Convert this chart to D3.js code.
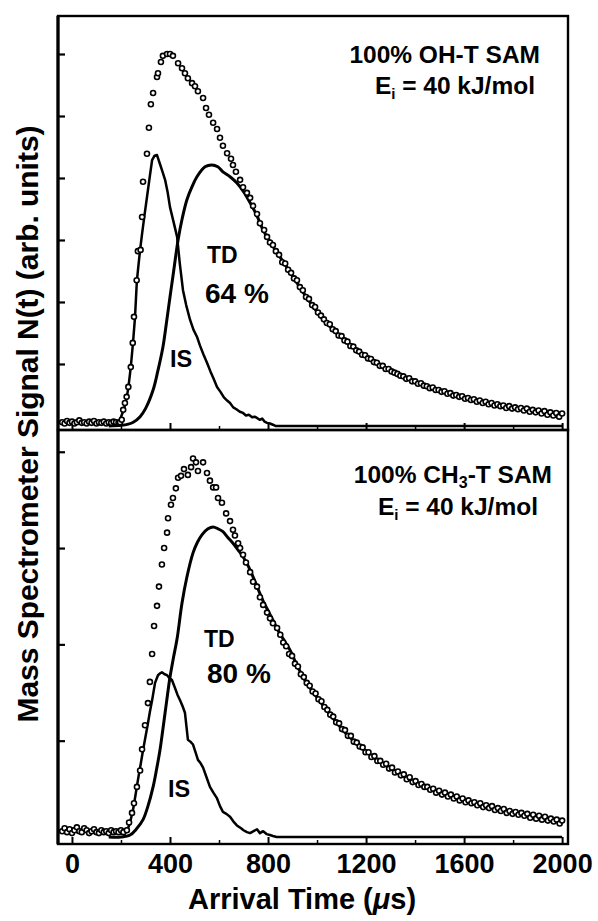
<!DOCTYPE html>
<html>
<head>
<meta charset="utf-8">
<script src="https://cdn.jsdelivr.net/npm/d3@7"></script>
<style>
  body { margin: 0; background: #fff; }
  text { font-family: "Liberation Sans", Arial, Helvetica, sans-serif; font-weight: bold; fill: #000; }
</style>
</head>
<body>
<div id="chart-area"></div>
<script>
// arrival time in microseconds, signal in arb. units (one unit per left tick)
const xMajorTicks = [0, 400, 800, 1200, 1600, 2000]
const xMinorTicks = [200, 600, 1000, 1400, 1800]
const ohYTicks = [1, 2, 3, 4, 5, 6]
const ch3YTicks = [1, 2, 3, 4]

// ---- 100% OH-T SAM ----
const ohData = [
  [-40,0.06],[-30,0.04],[-20,0.08],[-10,0.05],[0,0.07],[10,0.04],[20,0.06],[30,0.09],[40,0.05],[50,0.06],
  [60,0.04],[70,0.07],[80,0.05],[90,0.08],[100,0.04],[110,0.06],[120,0.05],[130,0.07],[140,0.04],[150,0.06],
  [160,0.05],[170,0.07],[180,0.06],[190,0.05],[196,0.06],[203,0.10],[209,0.26],[216,0.37],[223,0.47],[230,0.63],
  [240,0.95],[248,1.34],[253,1.76],[264,2.35],[269,2.82],[280,2.84],[286,3.37],[290,3.94],[306,4.39],[314,4.81],
  [322,5.19],[331,5.37],[347,5.63],[351,5.69],[363,5.87],[371,5.97],[388,6.0],[400,6.0],[412,5.97],[433,5.85],
  [449,5.77],[461,5.69],[473,5.61],[490,5.53],[502,5.48],[514,5.40],[535,5.29],[547,5.13],[559,5.02],[576,4.89],
  [592,4.79],[604,4.65],[616,4.52],[633,4.40],[649,4.31],[657,4.21],[669,4.10],[686,3.97],[698,3.85],[714,3.76],
  [727,3.68],[739,3.55],[755,3.42],[767,3.27],[784,3.16],[796,3.05],
  [808,2.96],[820,2.92],[832,2.82],[845,2.76],[858,2.64],[870,2.62],[882,2.52],[894,2.47],[906,2.38],[918,2.35],
  [930,2.24],[942,2.19],[955,2.08],[967,2.05],[980,1.95],[992,1.92],[1004,1.83],[1016,1.78],[1028,1.72],[1040,1.66],
  [1052,1.64],[1064,1.56],[1076,1.53],[1088,1.46],[1100,1.45],[1112,1.38],[1124,1.36],[1136,1.29],[1148,1.28],[1160,1.22],
  [1172,1.20],[1184,1.15],[1196,1.14],[1208,1.09],[1220,1.08],[1232,1.03],[1244,1.02],[1256,0.97],[1268,0.97],[1280,0.92],
  [1292,0.92],[1304,0.88],[1316,0.86],[1328,0.84],[1340,0.81],[1352,0.80],[1364,0.76],[1376,0.77],[1388,0.72],[1400,0.72],
  [1412,0.68],[1424,0.69],[1436,0.65],[1448,0.64],[1460,0.61],[1472,0.62],[1484,0.58],[1496,0.58],[1508,0.55],[1520,0.56],
  [1532,0.52],[1544,0.53],[1556,0.49],[1568,0.50],[1580,0.47],[1592,0.48],[1604,0.44],[1616,0.45],[1628,0.42],[1640,0.43],
  [1652,0.39],[1664,0.41],[1676,0.37],[1688,0.39],[1700,0.35],[1712,0.37],[1724,0.33],[1736,0.35],[1748,0.32],[1760,0.33],
  [1772,0.29],[1784,0.32],[1796,0.28],[1808,0.30],[1820,0.27],[1832,0.29],[1844,0.25],[1856,0.28],[1868,0.23],[1880,0.26],
  [1892,0.22],[1904,0.25],[1916,0.20],[1928,0.24],[1940,0.18],[1952,0.22],[1964,0.17],[1976,0.21],[1988,0.15],[2000,0.20]
]
const ohIS = [
  [-40,0.05],[-25,0.07],[-10,0.04],[5,0.06],[20,0.05],[35,0.08],[50,0.05],[65,0.06],[80,0.04],[95,0.07],
  [110,0.05],[125,0.04],[140,0.06],[155,0.05],[170,0.04],[184,0.06],[196,0.10],[208,0.23],[216,0.33],[224,0.47],
  [230,0.62],[237,0.85],[243,1.08],[249,1.34],[257,1.74],[265,2.35],[272,2.62],[278,2.84],[286,3.10],[296,3.40],
  [306,3.69],[316,3.98],[327,4.29],[337,4.36],[347,4.37],[357,4.25],[368,4.12],[380,3.97],[390,3.78],[400,3.53],
  [414,3.30],[429,3.05],[440,2.62],[453,2.19],[466,1.95],[482,1.71],[496,1.55],[510,1.44],[522,1.30],[537,1.15],
  [551,1.02],[565,0.88],[578,0.76],[592,0.63],[606,0.55],[620,0.46],[633,0.41],[645,0.37],[658,0.30],[671,0.27],
  [685,0.23],[698,0.21],[710,0.17],[722,0.18],[735,0.14],[745,0.15],[755,0.13],[766,0.10],[776,0.12],[786,0.07],
  [796,0.05],[808,0.04],[820,0.02],[830,0.0],[2000,0.0]
]
const ohTD = [
  [150,0],[200,0.01],[230,0.03],[250,0.06],[278,0.15],[300,0.28],[331,0.58],[350,0.88],[371,1.27],[385,1.65],
  [400,2.08],[415,2.50],[433,3.0],[450,3.35],[469,3.65],[490,3.86],[510,4.02],[543,4.18],[571,4.21],[595,4.18],
  [616,4.10],[645,4.02],[673,3.92],[700,3.78],[727,3.60],[755,3.39],[780,3.16],[820,2.90],[860,2.66],[900,2.42],
  [960,2.06],[1020,1.74],[1080,1.50],[1140,1.30],[1200,1.12],[1260,0.98],[1330,0.85],[1400,0.72],[1460,0.62],[1530,0.53],
  [1600,0.46],[1670,0.39],[1740,0.34],[1800,0.30],[1870,0.26],[1940,0.23],[2000,0.21]
]

// ---- 100% CH3-T SAM ----
const ch3Data = [
  [-40,0.06],[-30,0.09],[-20,0.05],[-10,0.08],[0,0.04],[10,0.07],[20,0.10],[30,0.06],[40,0.05],[50,0.09],
  [60,0.07],[70,0.04],[80,0.06],[90,0.08],[100,0.05],[110,0.04],[120,0.07],[130,0.05],[140,0.06],[150,0.04],
  [160,0.07],[170,0.05],[180,0.06],[190,0.05],[200,0.07],[210,0.05],[224,0.07],[233,0.15],[245,0.25],[253,0.35],
  [265,0.52],[278,0.69],[286,0.91],[298,1.16],[310,1.39],[318,1.61],[327,1.90],[335,2.19],[347,2.40],[355,2.60],
  [367,2.83],[376,3.00],[388,3.16],[392,3.31],[404,3.45],[412,3.52],[424,3.62],[433,3.73],[445,3.75],[457,3.82],
  [473,3.76],[486,3.84],[494,3.93],[506,3.89],[514,3.80],[535,3.89],[551,3.78],[563,3.70],[576,3.63],[588,3.63],
  [596,3.52],[612,3.47],[629,3.36],[645,3.28],[657,3.19],[665,3.13],[678,3.05],[686,3.00],[698,2.93],[710,2.85],
  [727,2.75],[739,2.65],[755,2.60],[767,2.49],[780,2.41],[796,2.33],[808,2.27],[820,2.22],[837,2.17],
  [850,2.10],[862,2.02],[874,1.98],[886,1.90],[898,1.88],[910,1.80],[922,1.77],[934,1.69],[946,1.66],[958,1.60],
  [970,1.57],[982,1.51],[994,1.49],[1006,1.43],[1018,1.41],[1030,1.35],[1042,1.32],[1054,1.27],[1066,1.25],[1078,1.19],
  [1090,1.18],[1102,1.12],[1114,1.11],[1126,1.05],[1138,1.05],[1150,0.99],[1162,0.98],[1174,0.94],[1186,0.93],[1198,0.88],
  [1210,0.88],[1222,0.83],[1234,0.84],[1246,0.79],[1258,0.79],[1270,0.75],[1282,0.76],[1294,0.71],[1306,0.72],[1318,0.67],
  [1330,0.68],[1342,0.64],[1354,0.65],[1366,0.60],[1378,0.62],[1390,0.57],[1402,0.58],[1414,0.54],[1426,0.55],[1438,0.52],
  [1450,0.52],[1462,0.49],[1474,0.50],[1486,0.46],[1498,0.48],[1510,0.44],[1522,0.46],[1534,0.42],[1546,0.44],[1558,0.40],
  [1570,0.42],[1582,0.38],[1594,0.40],[1606,0.36],[1618,0.38],[1630,0.35],[1642,0.36],[1654,0.33],[1666,0.35],[1678,0.31],
  [1690,0.33],[1702,0.30],[1714,0.32],[1726,0.28],[1738,0.30],[1750,0.27],[1762,0.29],[1774,0.25],[1786,0.27],[1798,0.24],
  [1810,0.26],[1822,0.23],[1834,0.25],[1846,0.22],[1858,0.24],[1870,0.20],[1882,0.23],[1894,0.19],[1906,0.22],[1918,0.18],
  [1930,0.21],[1942,0.17],[1954,0.19],[1966,0.16],[1978,0.18],[1990,0.14],[2000,0.17]
]
const ch3IS = [
  [-40,0.05],[-25,0.08],[-10,0.06],[5,0.09],[20,0.05],[35,0.07],[50,0.10],[65,0.06],[80,0.05],[95,0.08],
  [110,0.04],[125,0.06],[140,0.05],[155,0.07],[170,0.05],[185,0.06],[200,0.05],[212,0.04],[224,0.06],[236,0.14],
  [249,0.28],[259,0.43],[269,0.59],[280,0.75],[290,0.90],[300,1.04],[310,1.18],[318,1.30],[327,1.42],[339,1.60],
  [351,1.68],[360,1.70],[367,1.71],[378,1.69],[388,1.68],[398,1.65],[408,1.63],[420,1.55],[430,1.48],[441,1.42],
  [451,1.36],[461,1.29],[467,1.15],[473,1.01],[483,0.99],[494,0.96],[504,0.88],[514,0.80],[524,0.77],[535,0.72],
  [549,0.62],[563,0.52],[577,0.46],[592,0.40],[604,0.32],[616,0.26],[630,0.24],[645,0.21],[659,0.16],[673,0.12],
  [690,0.09],[700,0.07],[714,0.05],[727,0.04],[741,0.06],[755,0.08],[767,0.04],[780,0.06],[794,0.03],[808,0.02],
  [820,0.01],[835,0.0],[2000,0.0]
]
const ch3TD = [
  [150,0],[200,0.0],[237,0.02],[262,0.08],[290,0.18],[310,0.32],[331,0.52],[345,0.70],[359,0.90],[370,1.10],
  [380,1.29],[390,1.48],[400,1.66],[414,1.86],[429,2.06],[449,2.43],[469,2.70],[494,2.95],[512,3.06],[531,3.14],
  [555,3.20],[576,3.22],[596,3.20],[616,3.17],[636,3.11],[657,3.05],[678,2.98],[698,2.91],[718,2.82],[739,2.70],
  [760,2.57],[780,2.45],[800,2.35],[820,2.25],[840,2.15],[861,2.06],[890,1.94],[920,1.77],[960,1.59],[1000,1.45],
  [1060,1.25],[1120,1.07],[1180,0.93],[1240,0.81],[1300,0.71],[1360,0.62],[1420,0.54],[1480,0.48],[1540,0.43],[1600,0.38],
  [1660,0.34],[1720,0.30],[1780,0.26],[1840,0.23],[1900,0.21],[1960,0.18],[2000,0.16]
]

const WIDTH = 598
const HEIGHT = 921
const LEFT = 58, RIGHT = 568

const svg = d3.select("#chart-area").append("svg")
  .attr("width", WIDTH)
  .attr("height", HEIGHT)

const x = d3.scaleLinear()
  .domain([-57, 2024])
  .range([LEFT, RIGHT])

const panels = [
  { top: 16, bottom: 430, yMax: 6.613, yMin: -0.065, ticks: ohYTicks,
    data: ohData, is: ohIS, td: ohTD, labels: false },
  { top: 430, bottom: 844, yMax: 4.226, yMin: -0.073, ticks: ch3YTicks,
    data: ch3Data, is: ch3IS, td: ch3TD, labels: true }
]

panels.forEach(p => {
  const y = d3.scaleLinear()
    .domain([p.yMin, p.yMax])
    .range([p.bottom, p.top])

  const g = svg.append("g")

  // y ticks, pointing inside
  g.append("g")
    .attr("transform", `translate(${LEFT}, 0)`)
    .call(d3.axisRight(y).tickValues(p.ticks).tickSize(7).tickFormat(""))
    .call(a => a.select(".domain").remove())
    .selectAll("line").attr("stroke", "#000").attr("stroke-width", 2.2)

  // x ticks, pointing up
  const xMajor = g.append("g")
    .attr("transform", `translate(0, ${p.bottom})`)
    .call(d3.axisBottom(x).tickValues(xMajorTicks).tickSize(-7).tickSizeOuter(0).tickPadding(10)
      .tickFormat(p.labels ? d3.format("d") : ""))
  xMajor.select(".domain").remove()
  xMajor.selectAll("line").attr("stroke", "#000").attr("stroke-width", 2)
  xMajor.selectAll("text")
    .attr("font-size", 27)
    .attr("font-family", "'Liberation Sans', Arial, sans-serif")
    .attr("font-weight", "bold")

  g.append("g")
    .attr("transform", `translate(0, ${p.bottom})`)
    .call(d3.axisBottom(x).tickValues(xMinorTicks).tickSize(-4).tickSizeOuter(0).tickFormat(""))
    .call(a => a.select(".domain").remove())
    .selectAll("line").attr("stroke", "#000").attr("stroke-width", 1.5)

  const line = d3.line()
    .x(d => x(d[0]))
    .y(d => y(d[1]))

  g.append("path")
    .datum(p.is)
    .attr("fill", "none")
    .attr("stroke", "#000")
    .attr("stroke-width", 2.5)
    .attr("stroke-linejoin", "round")
    .attr("d", line)

  g.append("path")
    .datum(p.td)
    .attr("fill", "none")
    .attr("stroke", "#000")
    .attr("stroke-width", 3)
    .attr("d", line.curve(d3.curveCatmullRom))

  g.selectAll("circle")
    .data(p.data)
    .enter().append("circle")
    .attr("cx", d => x(d[0]))
    .attr("cy", d => y(d[1]))
    .attr("r", 2.5)
    .attr("fill", "#fff")
    .attr("stroke", "#000")
    .attr("stroke-width", 1.6)

  // frame
  g.append("rect")
    .attr("x", LEFT)
    .attr("y", p.top)
    .attr("width", RIGHT - LEFT)
    .attr("height", p.bottom - p.top)
    .attr("fill", "none")
    .attr("stroke", "#000")
    .attr("stroke-width", 2.4)
})

// left axis a little heavier
svg.append("line")
  .attr("x1", LEFT).attr("x2", LEFT)
  .attr("y1", 16).attr("y2", 844)
  .attr("stroke", "#000").attr("stroke-width", 3.2)

// annotations
function label(txt, px, py, size, anchor) {
  return svg.append("text")
    .attr("x", px).attr("y", py)
    .attr("font-size", size)
    .attr("text-anchor", anchor || "start")
    .text(txt)
}

label("100% OH-T SAM", 540, 63, 24.5, "end")
const e1 = svg.append("text").attr("x", 535).attr("y", 94).attr("font-size", 24.5).attr("text-anchor", "end")
e1.append("tspan").text("E")
e1.append("tspan").attr("font-size", 15).attr("dy", 5).text("i")
e1.append("tspan").attr("dy", -5).text(" = 40 kJ/mol")

const c1 = svg.append("text").attr("x", 552).attr("y", 483).attr("font-size", 24.5).attr("text-anchor", "end")
c1.append("tspan").text("100% CH")
c1.append("tspan").attr("font-size", 16).attr("dy", 5).text("3")
c1.append("tspan").attr("dy", -5).text("-T SAM")
const e2 = svg.append("text").attr("x", 538).attr("y", 515).attr("font-size", 24.5).attr("text-anchor", "end")
e2.append("tspan").text("E")
e2.append("tspan").attr("font-size", 15).attr("dy", 5).text("i")
e2.append("tspan").attr("dy", -5).text(" = 40 kJ/mol")

label("TD", 207, 263, 23)
label("64 %", 205, 303, 28)
label("IS", 170, 367, 23.5)
label("TD", 204, 647, 23)
label("80 %", 207, 683, 28)
label("IS", 168, 797, 23.5)

// axis titles
const xt = svg.append("text")
  .attr("x", 302).attr("y", 909)
  .attr("font-size", 29)
  .attr("text-anchor", "middle")
xt.append("tspan").text("Arrival Time (")
xt.append("tspan").attr("font-style", "italic").text("\u03BC")
xt.append("tspan").text("s)")

svg.append("text")
  .attr("transform", "translate(38, 424) rotate(-90)")
  .attr("font-size", 30)
  .attr("text-anchor", "middle")
  .attr("textLength", 597)
  .attr("lengthAdjust", "spacingAndGlyphs")
  .text("Mass Spectrometer Signal N(t) (arb. units)")
</script>
</body>
</html>
